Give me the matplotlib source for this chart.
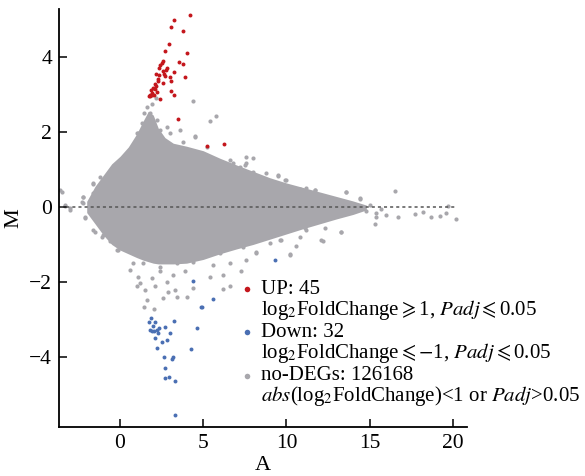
# MA plot of DEGs: A vs M, with up/down genes highlighted
import matplotlib
matplotlib.use("Agg")
import matplotlib.pyplot as plt

plt.rcParams['font.family'] = ['Liberation Serif', 'DejaVu Serif']
plt.rcParams['mathtext.fontset'] = 'stix'

### data
# dense cloud of no-DEGs: envelope along A
core_a = [-2.0, -1.5, -1.0, -0.5, 0, 0.5, 1.0, 1.4, 1.7, 2.0, 2.3, 2.7, 3.2,
          4.0, 5.0, 6.0, 7.0, 8.0, 9.0, 10.0, 11.0, 12.0, 13.0, 14.0, 14.8]
core_upper = [0.15, 0.55, 0.85, 1.15, 1.35, 1.6, 1.95, 2.3, 2.55, 2.45, 2.1, 1.85, 1.7,
              1.62, 1.5, 1.3, 1.12, 0.95, 0.78, 0.64, 0.52, 0.4, 0.28, 0.16, 0.05]
core_lower = [-0.15, -0.45, -0.75, -1.0, -1.15, -1.25, -1.35, -1.42, -1.46, -1.5, -1.52, -1.52, -1.52,
              -1.5, -1.4, -1.25, -1.12, -1.0, -0.86, -0.72, -0.58, -0.45, -0.32, -0.2, -0.08]

# sparse no-DEGs outside the dense cloud
nodeg_a = [4.36, 5.77, 5.41, 4.52, 2.16, 1.9, 1.6, 1.46, 1.8, 2.2, 1.3, 2.8, 1.1, 2.0, 3.0,
           0.8, 0.4, 0.0, -0.4, -1.0, -1.6, -1.6, -2.2, -3.6, 6.6, 7.2, 7.6, 5.2, 3.8, 3.4, 2.4,
           8.0, 9.51, 9.91, 10.8, 11.7, 13.6, 14.4, 16.5, 15.4, 16.0, 16.7, 17.7, 18.2, 18.7,
           19.2, 19.7, 20.2, 19.6, 15.3, 13.3, 12.1, 12.2, 10.8, 10.6, 10.2, 8.2, 9.0, 9.7, 11.1,
           14.8, 15.0, 15.7, -3.3, -3.0, -2.2, -2.1, -1.5, -1.0, -0.5, -0.1, 0.6, 0.8, 1.1, 1.2,
           1.04, 1.5, 1.6, 1.46, 2.04, 1.9, 2.1, 2.6, 2.8, 2.9, 3.3, 3.4, 4.04, 2.4, 3.2, 3.9,
           4.4, 5.4, 6.2, 6.17, 6.6, 7.3,
           -1.6, -2.2, -2.3, -2.1, -1.6, -1.1, -0.6, -0.2, -1.0, -1.2, -3.5, -3.0, -3.3,
           1.0, 1.6, 2.4, 3.6, 4.5, 6.8, 7.5, 8.0, 1.4, 2.4, 3.4, 4.4, 6.0, 7.4,
           7.6, 8.8, 9.5, 10.0, 11.2, 11.7, 13.6, 14.4, 15.4, 13.3, 12.3, 11.2, 10.2, 9.6,
           8.2, 7.6, 6.6, 5.6]
nodeg_m = [2.83, 2.43, 2.30, 1.87, 2.92, 2.75, 2.67, 2.50, 2.5, 2.32, 2.23, 2.14, 1.96, 1.87, 1.96,
           1.61, 1.34, 1.07, 0.9, 0.72, 0.6, 0.36, 0.27, 0.45, 1.25, 1.07, 1.16, 1.61, 1.74, 1.61, 1.70,
           1.30, 0.83, 0.72, 0.47, 0.44, 0.39, 0.21, 0.43, -0.17, -0.21, -0.26, -0.20, -0.14, -0.26,
           -0.24, 0.03, -0.33, -0.17, -0.45, -0.68, -0.88, -0.92, -0.79, -1.03, -1.26, -1.22, -0.97, -0.88, -0.57,
           -0.1, 0.05, -0.05, 0.05, -0.08, 0.1, -0.26, -0.66, -0.75, -0.92, -1.15, -1.68, -1.5, -1.86, -2.04,
           -2.12, -2.21, -2.48, -2.66, -2.73, -1.90, -2.12, -2.44, -1.99, -2.26, -2.21, -2.39, -2.39, -1.72, -1.81, -1.72,
           -2.17, -1.88, -1.81, -2.20, -2.12, -1.70,
           0.63, 0.27, 0.14, -0.3, -0.61, -0.79, -0.92, -1.15, 0.5, 0.81, 0.41, -0.03, 0.03,
           1.96, 1.87, 2.05, 2.05, 1.89, 1.17, 1.12, 0.94, -1.5, -1.59, -1.5, -1.46, -1.24, -1.06,
           1.34, 0.9, 0.85, 0.72, 0.5, 0.45, 0.41, 0.23, -0.26, -0.66, -0.57, -0.61, -1.28, -0.88,
           -1.19, -1.41, -1.5, -1.55]

# UP genes (45)
up_a = [4.20, 3.24, 3.04, 3.76, 2.96, 2.68, 4.0, 3.52, 3.80, 2.56, 2.50, 2.40, 2.36, 3.24, 2.64,
        2.16, 2.32, 2.70, 3.0, 3.88, 3.04, 2.28, 2.60, 2.16, 2.0, 1.84, 2.12, 2.20, 1.90, 1.80,
        1.72, 2.04, 2.40, 3.24, 3.08, 3.48, 5.25, 6.25, 2.58, 2.30, 2.76, 1.94, 2.85, 1.82, 2.10]
up_m = [5.11, 5.00, 4.79, 4.70, 4.35, 4.16, 4.12, 3.86, 3.81, 3.90, 3.85, 3.78, 3.70, 3.61, 3.56,
        3.55, 3.51, 3.49, 3.46, 3.48, 3.37, 3.36, 3.30, 3.23, 3.17, 3.12, 3.14, 3.07, 2.99, 2.95,
        2.96, 2.98, 2.89, 2.98, 3.09, 2.35, 1.63, 1.68, 3.64, 3.42, 3.65, 3.05, 3.72, 3.0, 3.28]

# Down genes (32)
down_a = [4.36, 5.57, 4.87, 4.95, 1.88, 1.72, 2.12, 3.24, 1.80, 1.92, 2.04, 2.20, 2.36, 2.68, 4.65,
          2.28, 3.0, 2.08, 2.80, 2.24, 4.28, 2.66, 3.20, 3.12, 2.72, 2.68, 2.96, 3.32, 9.31, 3.3,
          1.96, 2.5]
down_m = [-1.98, -2.46, -2.68, -2.67, -2.97, -3.07, -3.08, -3.04, -3.27, -3.30, -3.32, -3.29, -3.23, -3.21, -3.24,
          -3.37, -3.35, -3.50, -3.54, -3.77, -3.80, -3.99, -4.01, -4.06, -4.30, -4.57, -4.55, -4.64, -1.41, -5.55,
          -3.18, -3.6]

gray = '#a8a7ac'
red = '#c4161c'
blue = '#4a6fb3'

fig = plt.figure(figsize=(5.85, 4.76), dpi=100)
ax = fig.add_axes([0.101, 0.103, 0.697, 0.878])

ax.fill_between(core_a, core_lower, core_upper, color=gray, lw=0, zorder=1)
ax.scatter(nodeg_a, nodeg_m, s=9, color=gray, lw=0, zorder=1)
ax.plot([ax.get_xlim()[0] - 10, max(nodeg_a)], [0, 0], color='#555555', lw=1.1,
        dashes=(2, 2), zorder=2)
ax.scatter(up_a, up_m, s=8, color=red, lw=0, zorder=3)
ax.scatter(down_a, down_m, s=8, color=blue, lw=0, zorder=3)

ax.set_xlim(-3.66, 20.84)
ax.set_ylim(-5.87, 5.28)
ax.set_xticks([0, 5, 10, 15, 20])
ax.set_yticks([-4, -2, 0, 2, 4])
ax.spines['top'].set_visible(False)
ax.spines['right'].set_visible(False)
ax.spines['left'].set_linewidth(1.3)
ax.spines['bottom'].set_linewidth(1.3)
ax.tick_params(direction='in', length=6, width=1.1, labelsize=15.5, pad=5)
ax.set_xlabel('A', fontsize=16, labelpad=2)
ax.set_ylabel('M', fontsize=16, labelpad=4)

### legend, marker beside first line of each entry
entries = [
    (red, 'UP: 45', r'log$_2$FoldChange$\geqslant$1, $\mathit{Padj}$$\leqslant$0.05'),
    (blue, 'Down: 32', r'log$_2$FoldChange$\leqslant$$-$1, $\mathit{Padj}$$\leqslant$0.05'),
    (gray, 'no-DEGs: 126168', r'$\mathit{abs}$(log$_2$FoldChange)<1 or $\mathit{Padj}$>0.05'),
]
y0 = 0.330
for i, (c, l1, l2) in enumerate(entries):
    y = y0 - i * 0.1035
    ax.plot([0.461], [y], 'o', ms=4, color=c, mec='none', transform=ax.transAxes, clip_on=False)
    ax.text(0.495, y, l1, fontsize=15, va='center', ha='left', transform=ax.transAxes)
    ax.text(0.495, y - 0.050, l2, fontsize=15, va='center', ha='left', transform=ax.transAxes)

plt.savefig('out.png', dpi=100)
